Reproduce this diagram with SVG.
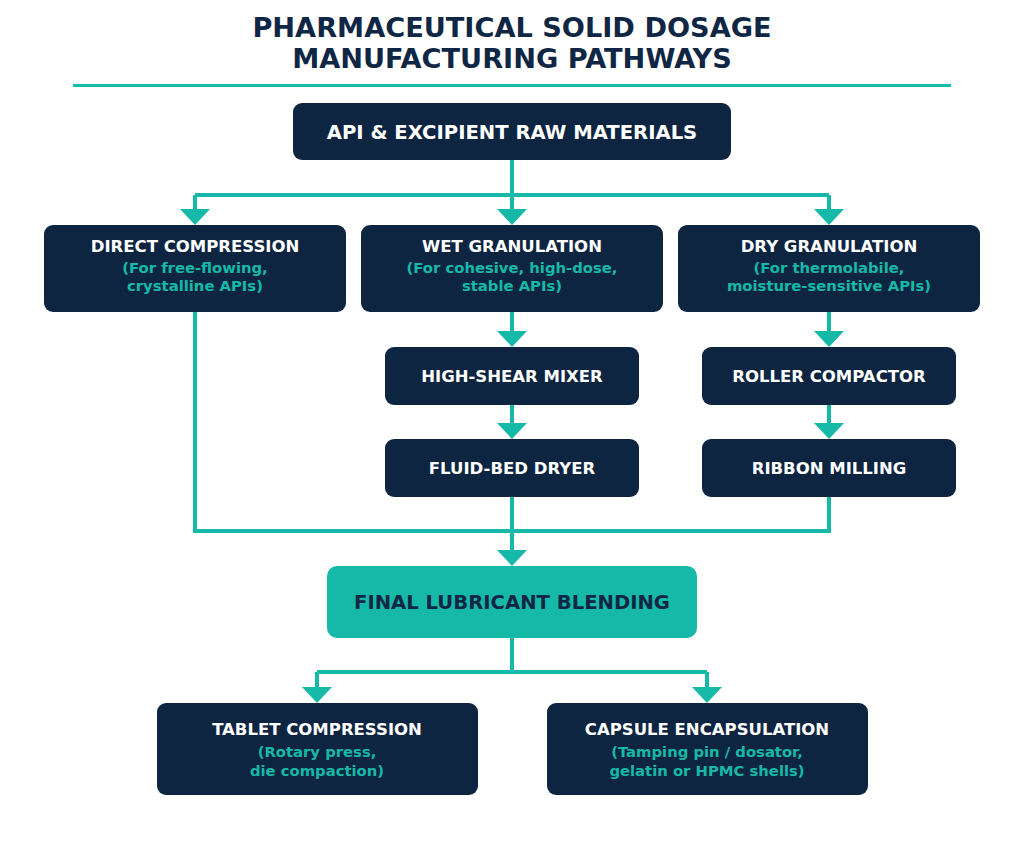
<svg xmlns="http://www.w3.org/2000/svg" width="1024" height="844" viewBox="0 0 1024 844">
<defs>
<marker id="arr" viewBox="0 0 16 30" refX="2" refY="15" markerWidth="16" markerHeight="30" markerUnits="userSpaceOnUse" orient="auto">
<path d="M0,0 L16,15 L0,30 Z" fill="#16b9a7"/>
</marker>
<style>
text{font-family:"DejaVu Sans","Liberation Sans",sans-serif;font-weight:bold;text-anchor:middle}
.title{font-size:27.2px;fill:#0f2644}
.box{fill:#0e2542}
.t{font-size:16.5px;fill:#ffffff}
.tl{font-size:19.6px;fill:#ffffff}
.s{font-size:14.8px;fill:#16b9a7}
.c{fill:none;stroke:#16b9a7;stroke-width:4}
.a{marker-end:url(#arr)}
</style>
</defs>
<rect width="1024" height="844" fill="#ffffff"/>
<g id="title">
<text class="title" x="512" y="37">PHARMACEUTICAL SOLID DOSAGE</text>
<text class="title" x="512" y="68">MANUFACTURING PATHWAYS</text>
<line x1="73" y1="85.5" x2="951" y2="85.5" stroke="#16b9a7" stroke-width="3"/>
</g>
<g id="connectors">
<path class="c a" d="M512,160 V211"/>
<path class="c" d="M195,195 H829"/>
<path class="c a" d="M195,195 V211"/>
<path class="c a" d="M829,195 V211"/>
<path class="c a" d="M512,312 V333"/>
<path class="c a" d="M512,404 V425"/>
<path class="c a" d="M829,312 V333"/>
<path class="c a" d="M829,404 V425"/>
<path class="c" d="M195,312 V531 H829 V496"/>
<path class="c a" d="M512,496 V552"/>
<path class="c" d="M512,638 V672"/>
<path class="c a" d="M317,672 V689"/>
<path class="c a" d="M707,672 V689"/>
<path class="c" d="M317,672 H707"/>
</g>
<g id="raw">
<rect class="box" x="293" y="103" width="438" height="57" rx="9"/>
<text class="tl" x="512" y="139">API &amp; EXCIPIENT RAW MATERIALS</text>
</g>
<g id="direct">
<rect class="box" x="44" y="225" width="302" height="87" rx="9"/>
<text class="t" x="195" y="252">DIRECT COMPRESSION</text>
<text class="s" x="195" y="273">(For free-flowing,</text>
<text class="s" x="195" y="291">crystalline APIs)</text>
</g>
<g id="wet">
<rect class="box" x="361" y="225" width="302" height="87" rx="9"/>
<text class="t" x="512" y="252">WET GRANULATION</text>
<text class="s" x="512" y="273">(For cohesive, high-dose,</text>
<text class="s" x="512" y="291">stable APIs)</text>
</g>
<g id="dry">
<rect class="box" x="678" y="225" width="302" height="87" rx="9"/>
<text class="t" x="829" y="252">DRY GRANULATION</text>
<text class="s" x="829" y="273">(For thermolabile,</text>
<text class="s" x="829" y="291">moisture-sensitive APIs)</text>
</g>
<g id="mixer">
<rect class="box" x="385" y="347" width="254" height="58" rx="9"/>
<text class="t" x="512" y="382">HIGH-SHEAR MIXER</text>
</g>
<g id="dryer">
<rect class="box" x="385" y="439" width="254" height="58" rx="9"/>
<text class="t" x="512" y="474">FLUID-BED DRYER</text>
</g>
<g id="roller">
<rect class="box" x="702" y="347" width="254" height="58" rx="9"/>
<text class="t" x="829" y="382">ROLLER COMPACTOR</text>
</g>
<g id="ribbon">
<rect class="box" x="702" y="439" width="254" height="58" rx="9"/>
<text class="t" x="829" y="474">RIBBON MILLING</text>
</g>
<g id="blend">
<rect x="327" y="566" width="370" height="72" rx="10" fill="#16b9a7"/>
<text class="tl" x="512" y="609" style="fill:#0f2644">FINAL LUBRICANT BLENDING</text>
</g>
<g id="tablet">
<rect class="box" x="157" y="703" width="321" height="92" rx="9"/>
<text class="t" x="317" y="735">TABLET COMPRESSION</text>
<text class="s" x="317" y="757">(Rotary press,</text>
<text class="s" x="317" y="776">die compaction)</text>
</g>
<g id="capsule">
<rect class="box" x="547" y="703" width="321" height="92" rx="9"/>
<text class="t" x="707" y="735">CAPSULE ENCAPSULATION</text>
<text class="s" x="707" y="757">(Tamping pin / dosator,</text>
<text class="s" x="707" y="776">gelatin or HPMC shells)</text>
</g>
</svg>
